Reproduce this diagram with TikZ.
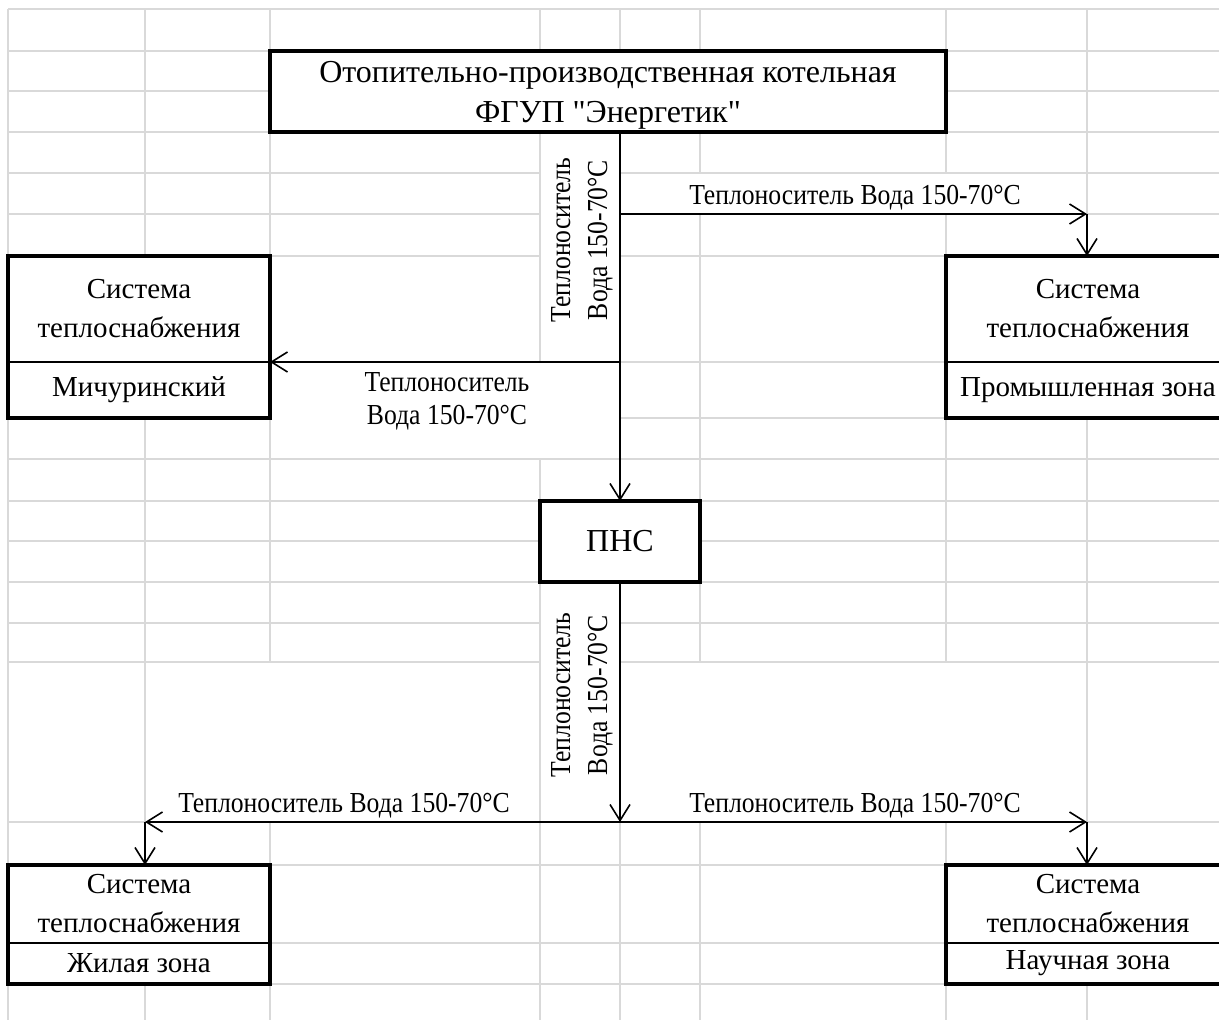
\documentclass[tikz,border=0pt]{standalone}
\usepackage{fontspec}
\newfontfamily\cellfont{Liberation Serif}
\newfontfamily\lblfont{Liberation Serif}[FakeStretch=0.885]
\usetikzlibrary{arrows.meta}

\begin{document}
\begin{tikzpicture}[x=0.5pt,y=-0.5pt]
			\tikzstyle{every node}+=[inner sep=0pt,outer sep=0pt,font=\cellfont\fontsize{14.5}{19.5}\selectfont]
			\tikzstyle{cell}=[black!15,line width=0.7pt]
			\tikzstyle{frame}=[draw=black,line width=1.6pt,fill=white,align=center]
			\tikzstyle{part}=[draw=black,line width=0.85pt,fill=white,align=center]
			\tikzstyle{lbl}=[align=center,font=\lblfont\fontsize{14.5}{16.5}\selectfont]
			\tikzstyle{vlbl}=[lbl,rotate=90,font=\lblfont\fontsize{14.5}{18.5}\selectfont]
			\tikzstyle{arr}=[black,line width=0.8pt,-{Straight Barb[length=8pt,width=10pt]}]
			\useasboundingbox (0,0) rectangle (1219,1020);
			\clip (0,0) rectangle (1219,1020);
			\foreach \x in {8,145,270,540,620,700,946,1087}
				\draw [cell] (\x,9) -- (\x,1020);
			\foreach \y in {9,51,91,132,173,214,256,362,418,459,501,541,582,623,662,822,865,943,984}
				\draw [cell] (8,\y) -- (1219,\y);
			\foreach \a/\b/\c/\d in {540/132/620/362,620/173/1087/214,270/362/620/459,540/582/620/822,145/662/540/822,620/662/1087/822}
				\fill [white] (\a+1.2,\b+1.2) rectangle (\c-1.2,\d-1.2);
			\node [frame,minimum width=338pt,minimum height=40.5pt,text depth=0pt,font=\cellfont\fontsize{16}{20}\selectfont] (boiler) at (608,91.5) {Отопительно-производственная котельная\\ФГУП "Энергетик"};
			\node [frame,minimum width=80pt,minimum height=40.5pt,font=\cellfont\fontsize{16}{20}\selectfont] (pns) at (620,541.5) {ПНС};
			\node [part,minimum width=131pt,minimum height=53pt] (sysL) at (139,309) {Система\\теплоснабжения};
			\node [part,minimum width=131pt,minimum height=28pt] (zoneL) at (139,390) {Мичуринский};
			\draw [line width=1.6pt] (sysL.north west) rectangle (zoneL.south east);
			\node [part,minimum width=142pt,minimum height=53pt] (sysR) at (1088,309) {Система\\теплоснабжения};
			\node [part,minimum width=142pt,minimum height=28pt] (zoneR) at (1088,390) {Промышленная зона};
			\draw [line width=1.6pt] (sysR.north west) rectangle (zoneR.south east);
			\node [part,minimum width=131pt,minimum height=39pt] (sysBL) at (139,904) {Система\\теплоснабжения};
			\node [part,minimum width=131pt,minimum height=20.5pt] (zoneBL) at (139,963.5) {Жилая зона};
			\draw [line width=1.6pt] (sysBL.north west) rectangle (zoneBL.south east);
			\node [part,minimum width=142pt,minimum height=39pt] (sysBR) at (1088,904) {Система\\теплоснабжения};
			\node [part,minimum width=142pt,minimum height=20.5pt] (zoneBR) at (1088,963.5) {Научная зона};
			\draw [line width=1.6pt] (sysBR.north west) rectangle (zoneBR.south east);
			\node [vlbl] (labUp) at (582,240) {Теплоноситель\\Вода 150-70°C};
			\node [lbl] (labTop) at (855,198) {Теплоноситель Вода 150-70°C};
			\node [lbl] (labLeft) at (447,401) {Теплоноситель\\Вода 150-70°C};
			\node [vlbl] (labDown) at (582,695) {Теплоноситель\\Вода 150-70°C};
			\node [lbl] (labBL) at (344,806) {Теплоноситель Вода 150-70°C};
			\node [lbl] (labBR) at (855,806) {Теплоноситель Вода 150-70°C};
			\coordinate (jTop) at (620,214);
			\coordinate (jBot) at (620,822);
			\coordinate (cT) at (1087,214);
			\coordinate (cL) at (145,822);
			\coordinate (cR) at (1087,822);
			\draw [arr] (boiler.south -| pns.north) -- (pns.north);
			\draw [arr] (jTop) -- (cT);
			\draw [arr] (cT) -- (cT |- sysR.north);
			\draw [arr] (pns |- zoneL.north) -- (zoneL.north east);
			\draw [arr] (pns.south) -- (jBot);
			\draw [arr] (jBot) -- (cL);
			\draw [arr] (jBot) -- (cR);
			\draw [arr] (cL) -- (cL |- sysBL.north);
			\draw [arr] (cR) -- (cR |- sysBR.north);
\end{tikzpicture}
\end{document}
